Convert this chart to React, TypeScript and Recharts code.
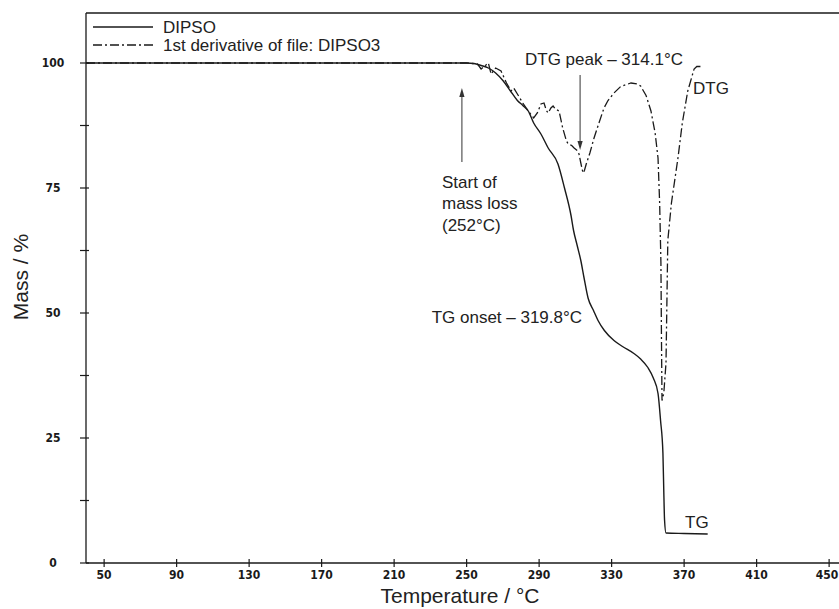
import React from 'react';
import { LineChart, Line, XAxis, YAxis, ReferenceLine, ReferenceDot, Legend } from 'recharts';

// ---- Data ----
const tgTemp = [40, 250, 254, 258, 262, 266, 270, 274, 278, 281, 284, 287, 291, 295, 300.4, 304, 307.6, 309, 311, 313, 314.8, 317, 320, 322.5, 326, 331.3, 336, 342.3, 346, 350, 353, 355.6, 357, 358.3, 358.8, 359.2, 360, 370, 383];
const tgMass = [100, 100, 99.9, 99.5, 99, 98, 96.5, 94.5, 92.5, 91.5, 90.4, 88, 85.8, 83, 79.8, 75, 69.5, 66.5, 63.5, 60.5, 57, 53, 50.5, 48.5, 46.5, 44.5, 43.3, 41.9, 40.8, 39.1, 37, 33.9, 28.5, 22, 14, 8.6, 6, 5.9, 5.8];

const dtgTemp = [40, 250, 256, 258, 262, 263.5, 266, 269, 272, 274.5, 276, 278, 281, 284, 287, 289, 291, 292.7, 294, 295, 296.5, 297.7, 299, 301, 303, 305, 306, 308, 309.3, 311, 312, 313, 314.2, 315, 316, 318, 320.3, 323, 325.8, 328, 331.3, 335, 340.7, 344, 346, 349, 351.7, 354, 355.6, 356.5, 357.2, 357.5, 357.8, 358.8, 360, 361, 363, 366.6, 369, 372, 375.5, 377, 380];
const dtgValue = [100, 100, 99.8, 98.8, 100, 97.8, 99, 98.4, 96, 94.4, 95, 93.8, 92, 90.4, 89, 90, 91.8, 92, 90.5, 90, 91, 91.4, 90.8, 90.4, 87, 84.5, 83.8, 83.5, 83, 82.5, 81.8, 80, 78, 78.5, 79.8, 82, 85, 88, 91, 92.5, 94, 95.3, 96, 95.8, 95.4, 93.5, 90.4, 86, 81, 72, 60, 45, 32.5, 34, 40, 64.5, 72, 81, 88, 94.4, 98.8, 99.3, 99.3];

const seriesNames = ['DIPSO', '1st derivative of file: DIPSO3'];
const xTicks = [50, 90, 130, 170, 210, 250, 290, 330, 370, 410, 450];
const yTicks = [0, 12.5, 25, 37.5, 50, 62.5, 75, 87.5, 100];
const yLabelValues = [0, 25, 50, 75, 100];

const tgData = tgTemp.map((t, i) => ({ t, v: tgMass[i] }));
const dtgData = dtgTemp.map((t, i) => ({ t, v: dtgValue[i] }));

// ---- Annotations (data coordinates) ----
const textNotes = [
  { t: 282.2, v: 100.8, anchor: 'start', lines: ['DTG peak \u2013 314.1\u00b0C'] },
  { t: 374.9, v: 95, anchor: 'start', lines: ['DTG'] },
  { t: 236.4, v: 76.2, anchor: 'start', lines: ['Start of', 'mass loss', '(252\u00b0C)'] },
  { t: 313.7, v: 49.2, anchor: 'end', lines: ['TG onset \u2013 319.8\u00b0C'] },
  { t: 370.5, v: 8.2, anchor: 'start', lines: ['TG'] },
];
const arrowNotes = [
  { from: { x: 247.4, y: 80.2 }, to: { x: 247.4, y: 95 } },
  { from: { x: 312.6, y: 97.6 }, to: { x: 312.6, y: 82.6 } },
];

const SANS = '"Liberation Sans", Arial, Helvetica, sans-serif';
const NARROW = '"Liberation Sans Narrow", "DejaVu Sans Condensed", "Liberation Sans", sans-serif';
const INK = '#1a1a1a';
const DASHES = ['', '9 3 2 3'];

const XTick = (props: any) => {
  const { x, y, payload } = props;
  const isLast = payload.value === xTicks[xTicks.length - 1];
  return (
    <g>
      <line x1={x} x2={x} y1={y - 4} y2={y + 4} stroke={INK} strokeWidth={1.2} />
      <text
        x={isLast ? x - 2 : x}
        y={y + 16}
        textAnchor="middle"
        fontFamily={NARROW}
        fontWeight="bold"
        fontSize={12}
        fill={INK}
      >
        {payload.value}
      </text>
    </g>
  );
};

const YTick = (props: any) => {
  const { x, y, payload } = props;
  const showLabel = yLabelValues.includes(payload.value);
  return (
    <g>
      <line x1={x - 6} x2={x + 3} y1={y} y2={y} stroke={INK} strokeWidth={1.2} />
      {showLabel && (
        <text x={x - 33} y={y} dy="0.35em" textAnchor="middle" fontFamily={NARROW} fontWeight="bold" fontSize={12} fill={INK}>
          {payload.value}
        </text>
      )}
    </g>
  );
};

const ArrowShape = (p: any) => {
  const { x1, y1, x2, y2 } = p;
  const dx = x2 - x1;
  const dy = y2 - y1;
  const len = Math.hypot(dx, dy) || 1;
  const ux = dx / len;
  const uy = dy / len;
  const hl = 9;
  const hw = 2.6;
  const bx = x2 - ux * hl;
  const by = y2 - uy * hl;
  return (
    <g>
      <line x1={x1} y1={y1} x2={bx} y2={by} stroke="#333" strokeWidth={1} />
      <polygon
        points={`${x2},${y2} ${bx - uy * hw},${by + ux * hw} ${bx + uy * hw},${by - ux * hw}`}
        fill="#333"
      />
    </g>
  );
};

const makeTextShape = (lines: string[], anchor: string) => (p: any) => (
  <text x={p.cx} y={p.cy} textAnchor={anchor as any} fontFamily={SANS} fontSize={17} fill="#222">
    {lines.map((ln, i) => (
      <tspan key={i} x={p.cx} dy={i === 0 ? '0.35em' : 21.5}>
        {ln}
      </tspan>
    ))}
  </text>
);

const LegendContent = (props: any) => {
  const payload = [...(props.payload || [])].sort(
    (a: any, b: any) => seriesNames.indexOf(a.value) - seriesNames.indexOf(b.value)
  );
  return (
    <svg width={330} height={40} style={{ display: 'block' }}>
      {payload.map((entry: any, i: number) => {
        const cy = 11 + i * 18;
        const idx = seriesNames.indexOf(entry.value);
        return (
          <g key={i}>
            <line x1={5} x2={65} y1={cy} y2={cy} stroke={INK} strokeWidth={1.3} strokeDasharray={DASHES[idx] || undefined} />
            <text x={75} y={cy} dy="0.35em" fontFamily={SANS} fontSize={17} fill="#222">
              {entry.value}
            </text>
          </g>
        );
      })}
    </svg>
  );
};

const YTitle = () => (
  <text x={28} y={277} transform="rotate(-90 28 277)" textAnchor="middle" fontFamily={SANS} fontSize={21} fill="#222">
    Mass / %
  </text>
);

const XTitle = () => (
  <text x={460} y={603} textAnchor="middle" fontFamily={SANS} fontSize={21} fill="#222">
    Temperature / °C
  </text>
);

export default function App() {
  return (
    <div style={{ position: 'absolute', left: 0, top: 0, width: 839, height: 609, background: '#fff' }}>
      <LineChart width={839} height={609} margin={{ top: 13, right: 0, bottom: 0, left: 0 }}>
        <XAxis
          dataKey="t"
          type="number"
          domain={[40, 455.45]}
          ticks={xTicks}
          interval={0}
          allowDataOverflow
          height={46}
          tickSize={0}
          tickMargin={0}
          tickLine={false}
          axisLine={{ stroke: INK, strokeWidth: 1.3 }}
          tick={<XTick />}
          label={<XTitle />}
        />
        <YAxis
          type="number"
          domain={[0, 110]}
          ticks={yTicks}
          interval={0}
          allowDataOverflow
          width={86}
          tickSize={0}
          tickMargin={0}
          tickLine={false}
          axisLine={{ stroke: INK, strokeWidth: 1.3 }}
          tick={<YTick />}
          label={<YTitle />}
        />
        <ReferenceLine y={110} stroke={INK} strokeWidth={1.3} />
        <Legend
          layout="vertical"
          align="center"
          verticalAlign="middle"
          content={<LegendContent />}
          wrapperStyle={{ left: 88, top: 16, width: 330, height: 40 }}
        />
        <Line
          data={tgData}
          dataKey="v"
          name={seriesNames[0]}
          stroke={INK}
          strokeWidth={1.4}
          dot={false}
          activeDot={false}
          isAnimationActive={false}
          type="monotone"
        />
        <Line
          data={dtgData}
          dataKey="v"
          name={seriesNames[1]}
          stroke={INK}
          strokeWidth={1.3}
          strokeDasharray={DASHES[1]}
          dot={false}
          activeDot={false}
          isAnimationActive={false}
          type="linear"
        />
        {arrowNotes.map((a, i) => (
          <ReferenceLine key={`a${i}`} segment={[a.from, a.to]} shape={ArrowShape} ifOverflow="visible" />
        ))}
        {textNotes.map((n, i) => (
          <ReferenceDot
            key={`n${i}`}
            x={n.t}
            y={n.v}
            r={1}
            ifOverflow="visible"
            shape={makeTextShape(n.lines, n.anchor)}
          />
        ))}
      </LineChart>
    </div>
  );
}
